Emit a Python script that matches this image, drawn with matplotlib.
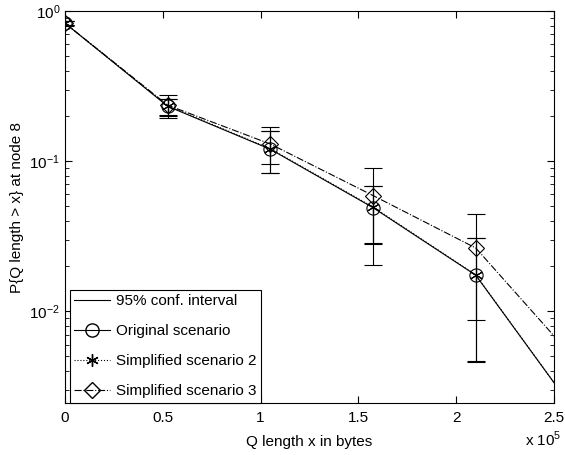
import numpy as np
import matplotlib.pyplot as plt
from matplotlib.lines import Line2D

plt.rcParams['font.family'] = ['Liberation Sans', 'DejaVu Sans']
plt.rcParams['mathtext.fontset'] = 'custom'
plt.rcParams['mathtext.rm'] = 'Liberation Sans'
plt.rcParams['font.size'] = 11

# queue length thresholds (bytes)
x = [0, 52500, 105000, 157500, 210000, 262500]

# P{Q length > x} for each scenario
p_orig = [0.83, 0.232, 0.120, 0.049, 0.0174, 0.0020]
p_sim2 = [0.83, 0.234, 0.121, 0.0495, 0.0175, 0.0020]
p_sim3 = [0.83, 0.236, 0.130, 0.059, 0.0264, 0.0045]

# 95% confidence interval bounds (first five points)
lo_orig = [0.805, 0.202, 0.0833, 0.028, 0.0047]
hi_orig = [0.855, 0.259, 0.159, 0.068, 0.0306]
lo_sim2 = [0.805, 0.200, 0.0830, 0.0283, 0.0046]
hi_sim2 = [0.855, 0.261, 0.160, 0.0685, 0.0310]
lo_sim3 = [0.800, 0.193, 0.0956, 0.0203, 0.0088]
hi_sim3 = [0.860, 0.275, 0.169, 0.0898, 0.0443]

fig = plt.figure(figsize=(5.65, 4.55), dpi=100)
ax = fig.add_axes([0.115, 0.1143, 0.8655, 0.8615])

lw = 0.8
for p, lo, hi in [(p_orig, lo_orig, hi_orig), (p_sim2, lo_sim2, hi_sim2),
                  (p_sim3, lo_sim3, hi_sim3)]:
    yc = np.array(p[:5])
    yerr = [yc - np.array(lo), np.array(hi) - yc]
    ax.errorbar(x[:5], yc, yerr=yerr, fmt='none', ecolor='black',
                elinewidth=lw, capsize=6.5, capthick=lw)

ax.plot(x, p_orig, '-', color='black', lw=lw, marker='o', ms=9.5,
        mfc='none', mec='black', mew=lw)
ax.plot(x, p_sim2, ':', color='black', lw=lw, marker=(6, 2, 0), ms=9,
        mec='black', mew=lw)
ax.plot(x, p_sim3, '-.', color='black', lw=lw, marker='D', ms=8,
        mfc='none', mec='black', mew=lw)

ax.set_yscale('log')
ax.set_xlim(0, 250000)
ax.set_ylim(0.00245, 1)
ax.set_xticks([0, 50000, 100000, 150000, 200000, 250000])
ax.set_xticklabels(['0', '0.5', '1', '1.5', '2', '2.5'])
ax.tick_params(which='both', direction='in', top=True, right=True)
ax.tick_params(which='major', length=5)
ax.tick_params(which='minor', length=3)
ax.tick_params(axis='x', pad=6)

ax.set_xlabel('Q length x in bytes', labelpad=7)
ax.set_ylabel('P{Q length > x} at node 8', labelpad=4)
fig.text(0.993, 0.0198, r'x 10$^{5}$', ha='right', va='baseline')

handles = [
    Line2D([], [], color='black', lw=lw),
    Line2D([], [], color='black', lw=lw, marker='o', ms=9.5, mfc='none'),
    Line2D([], [], color='black', lw=lw, ls=':', marker=(6, 2, 0), ms=9),
    Line2D([], [], color='black', lw=lw, ls='-.', marker='D', ms=8, mfc='none'),
]
labels = ['95% conf. interval', 'Original scenario',
          'Simplified scenario 2', 'Simplified scenario 3']
leg = ax.legend(handles, labels, loc='lower left', bbox_to_anchor=(0.01, 0.0),
                fancybox=False, edgecolor='black', framealpha=1,
                borderaxespad=0, handlelength=2.3, handletextpad=0.4,
                labelspacing=1.05, borderpad=0.3)
leg.get_frame().set_linewidth(0.8)

fig.savefig('out.png', dpi=100)
